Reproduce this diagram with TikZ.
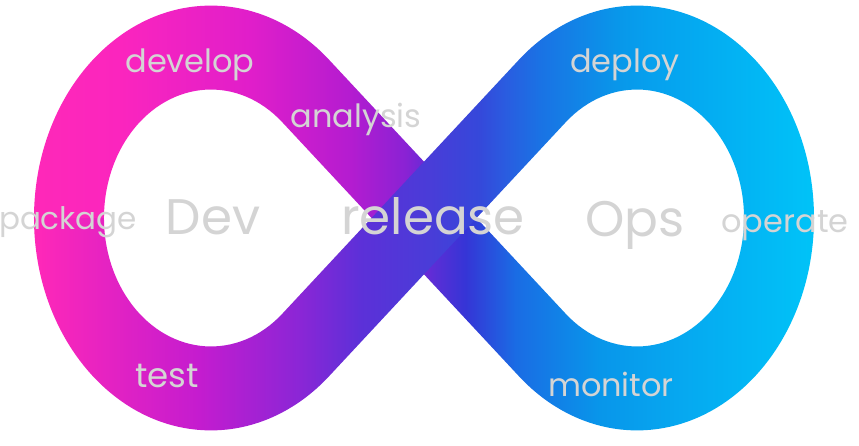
\documentclass[tikz,border=0pt]{standalone}
\usepackage{fontspec}
\setmainfont{Poppins}
\usetikzlibrary{calc}

\definecolor{labelgray}{HTML}{D4D4D4}
% colour stops of the two strands
\definecolor{cA}{HTML}{FF2AB6}
\definecolor{cB}{HTML}{FB25BE}
\definecolor{cC}{HTML}{E01ECA}
\definecolor{cD}{HTML}{B41CD0}
\definecolor{cE}{HTML}{8A22D4}
\definecolor{cF}{HTML}{5A2ED6}
\definecolor{cG}{HTML}{3535D6}
\definecolor{cH}{HTML}{1A6CE4}
\definecolor{cI}{HTML}{0896EA}
\definecolor{cJ}{HTML}{06A8F0}
\definecolor{cK}{HTML}{00C4F8}
\definecolor{cL}{HTML}{00C8FA}
\definecolor{fB}{HTML}{FF28B8}
\definecolor{fC}{HTML}{C41CCF}
\definecolor{fD}{HTML}{8A26D6}
\definecolor{fE}{HTML}{5C30D8}
\definecolor{fF}{HTML}{4A3CD8}
\definecolor{fG}{HTML}{3548DA}
\definecolor{fH}{HTML}{2A5CE0}
\definecolor{fI}{HTML}{1A72E4}
\definecolor{fJ}{HTML}{0898EA}
\definecolor{fK}{HTML}{06A0EE}

\pgfdeclarehorizontalshading{backband}{100bp}{color(0bp)=(cA); color(25bp)=(cA);
  color(32bp)=(cB); color(39.6bp)=(cC); color(45.4bp)=(cD); color(48.6bp)=(cE);
  color(50.3bp)=(cF); color(52.1bp)=(cG); color(55bp)=(cH); color(59.9bp)=(cI);
  color(64.6bp)=(cJ); color(72.6bp)=(cK); color(75bp)=(cL); color(100bp)=(cL)}
\pgfdeclarehorizontalshading{frontband}{100bp}{color(0bp)=(cA); color(25bp)=(cA);
  color(27bp)=(fB); color(36.6bp)=(fC); color(42.5bp)=(fD); color(46bp)=(fE);
  color(49.9bp)=(fF); color(52.9bp)=(fG); color(54.4bp)=(fH); color(56.4bp)=(fI);
  color(61.1bp)=(fJ); color(62.8bp)=(fK); color(72.6bp)=(cK); color(75bp)=(cL); color(100bp)=(cL)}

\begin{document}
\begin{tikzpicture}[x=1pt,y=1pt]
	\tikzstyle{phase}=[text=labelgray, inner sep=0pt, anchor=base, font=\fontsize{32}{36}\selectfont]
	\tikzstyle{side}=[phase, font=\fontsize{50}{56}\selectfont]

	\useasboundingbox (-424,-228) rectangle (435,218);

	% back strand: top of Dev loop, through the crossing, bottom of Ops loop
	\begin{scope}[yscale=1.2]
		\clip (-390,0) arc[start angle=180, end angle=48.19, radius=177]
			-- (141.7,-79.8) arc[start angle=228.19, end angle=360, radius=107]
			-- (390,0) arc[start angle=0, end angle=-131.81, radius=177]
			-- (-141.7,79.8) arc[start angle=48.19, end angle=180, radius=107] -- cycle;
		\shade[shading=backband] (-424,-190) rectangle (435,182);
	\end{scope}

	% front strand: bottom of Dev loop, through the crossing, top of Ops loop
	\begin{scope}[yscale=1.2]
		\clip (-390,0) arc[start angle=180, end angle=311.81, radius=177]
			-- (141.7,79.8) arc[start angle=131.81, end angle=0, radius=107]
			-- (390,0) arc[start angle=0, end angle=131.81, radius=177]
			-- (-141.7,-79.8) arc[start angle=311.81, end angle=180, radius=107] -- cycle;
		\shade[shading=frontband] (-424,-190) rectangle (435,182);
	\end{scope}

	\node[phase] (develop) at (-234,145) {develop};
	\node[phase] (analysis) at (-68,90) {analysis};
	\node[phase, font=\fontsize{31}{36}\selectfont] (package) at (-356,-12) {package};
	\node[side] (dev) at (-211,-17) {Dev};
	\node[side] (release) at (9,-17) {release};
	\node[side] (ops) at (211,-19) {Ops};
	\node[phase] (operate) at (361,-15) {operate};
	\node[phase] (deploy) at (201,145) {deploy};
	\node[phase, font=\fontsize{34}{36}\selectfont] (test) at (-257,-170) {test};
	\node[phase] (monitor) at (187,-179) {monitor};
\end{tikzpicture}
\end{document}
